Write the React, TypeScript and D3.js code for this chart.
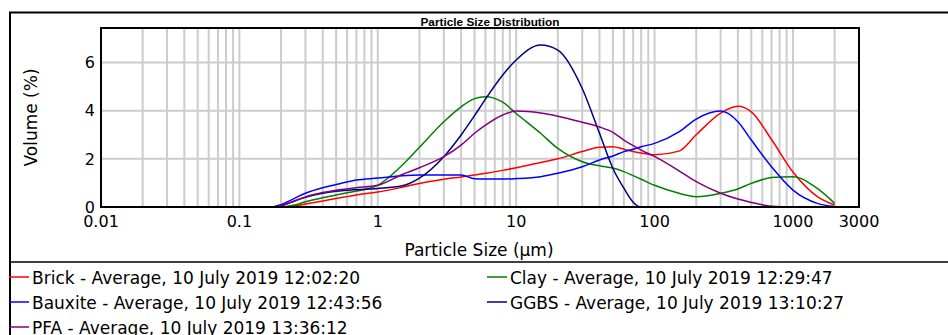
import React from "react";
import * as d3 from "d3";

// particle sizes (µm) shared by every series
const sizes = [
    0.02, 0.05, 0.1, 0.17, 0.2, 0.25, 0.3, 0.4, 0.5, 0.7, 1, 1.5, 2, 3, 4, 5, 6, 8, 10, 15, 20, 30, 40, 50,
    60, 70, 80, 100, 150, 200, 300, 400, 500, 700, 1000, 1500, 2000,
];

// volume (%) per size, null = not drawn
const brick = [
    null, 0, 0, 0, 0, 0.04, 0.12, 0.25, 0.35, 0.5, 0.62, 0.82, 0.98, 1.15, 1.25, 1.33, 1.4, 1.52, 1.63, 1.85,
    2.0, 2.3, 2.48, 2.5, 2.4, 2.3, 2.24, 2.17, 2.32, 3.0, 3.9, 4.18, 3.95, 2.8, 1.45, 0.43, 0.08,
];
const clay = [
    null, 0, 0, 0, 0, 0.08, 0.22, 0.38, 0.5, 0.66, 0.9, 1.73, 2.48, 3.54, 4.16, 4.5, 4.58, 4.35, 3.88, 3.06,
    2.43, 1.88, 1.71, 1.62, 1.47, 1.3, 1.15, 0.9, 0.57, 0.43, 0.57, 0.75, 0.98, 1.22, 1.26, 0.77, 0.15,
];
const bauxite = [
    0, 0, 0, 0, 0.1, 0.36, 0.57, 0.8, 0.93, 1.12, 1.2, 1.3, 1.33, 1.33, 1.33, 1.17, 1.16, 1.16, 1.18, 1.26,
    1.4, 1.67, 1.95, 2.12, 2.3, 2.4, 2.5, 2.64, 3.12, 3.65, 3.98, 3.54, 2.78, 1.67, 0.7, 0.15, 0.02,
];
const ggbs = [
    null, 0, 0, 0, 0.05, 0.25, 0.4, 0.57, 0.65, 0.72, 0.77, 0.88, 1.2, 2.09, 2.99, 3.79, 4.48, 5.48, 6.1, 6.72,
    6.51, 4.92, 3.06, 1.6, 0.78, 0.2, 0, 0, 0, 0, 0, 0, 0, 0, 0, 0, 0,
];
const pfa = [
    null, 0, 0, 0, 0.05, 0.25, 0.42, 0.6, 0.7, 0.8, 0.9, 1.35, 1.63, 2.09, 2.57, 3.06, 3.4, 3.82, 3.98, 3.9,
    3.77, 3.52, 3.32, 3.1, 2.78, 2.55, 2.36, 2.1, 1.5, 1.05, 0.57, 0.33, 0.19, 0.03, 0, 0, 0,
];

const seriesNames = [
    "Brick - Average, 10 July 2019 12:02:20",
    "Clay - Average, 10 July 2019 12:29:47",
    "Bauxite - Average, 10 July 2019 12:43:56",
    "GGBS - Average, 10 July 2019 13:10:27",
    "PFA - Average, 10 July 2019 13:36:12",
];
const seriesValues = [brick, clay, bauxite, ggbs, pfa];
const colors = ["#ff0000", "#008000", "#0000ff", "#000080", "#800080"];

const xTicks = [0.01, 0.1, 1, 10, 100, 1000, 3000];
const yTicks = [0, 2, 4, 6];

const width = 948;
const height = 335;
const font = "DejaVu Sans, Verdana, sans-serif";

export default function App() {
    const x = d3.scaleLog().domain([0.01, 3000]).range([101, 859]);
    const y = d3.scaleLinear().domain([0, 7.43]).range([207, 28]);

    // minor grid: 1..9 for every decade
    const grid: number[] = [];
    for (let e = -2; e <= 3; e++) {
        for (let m = 1; m <= 9; m++) {
            const v = m * Math.pow(10, e);
            if (v > 0.01 && v < 3000) grid.push(v);
        }
    }

    const line = d3
        .line<any>()
        .defined((d: any) => d[1] !== null)
        .x((d: any) => x(d[0]))
        .y((d: any) => y(d[1]))
        .curve(d3.curveMonotoneX);

    return (
        <svg
            width={width}
            height={height}
            style={{ position: "absolute", left: 0, top: 0, background: "#fff" }}
            fontFamily={font}
        >
            {/* outer frame */}
            <rect x={10} y={12.5} width={960} height={360} fill="none" stroke="#000" strokeWidth={2} />
            <line x1={10} x2={width} y1={262} y2={262} stroke="#000" strokeWidth={1.5} />

            <text
                x={490}
                y={25.5}
                textAnchor="middle"
                fontFamily="Liberation Sans, Arial, sans-serif"
                fontWeight="bold"
                fontSize={11.8}
            >
                Particle Size Distribution
            </text>

            {/* grid */}
            {grid.map((g, i) => (
                <line key={`gx${i}`} x1={x(g)} x2={x(g)} y1={28} y2={207} stroke="#cccccc" strokeWidth={2} />
            ))}
            {yTicks
                .filter((t) => t > 0)
                .map((t, i) => (
                    <line key={`gy${i}`} x1={101} x2={859} y1={y(t)} y2={y(t)} stroke="#cccccc" strokeWidth={2} />
                ))}

            {/* series */}
            {seriesValues.map((vals, i) => (
                <path
                    key={`s${i}`}
                    d={line(sizes.map((s, j) => [s, vals[j]])) || ""}
                    fill="none"
                    stroke={colors[i]}
                    strokeWidth={1.5}
                />
            ))}

            <rect x={101} y={28} width={758} height={179} fill="none" stroke="#000" strokeWidth={2} />

            {/* axes labels */}
            {xTicks.map((t, i) => (
                <text key={`xt${i}`} x={x(t)} y={227} textAnchor="middle" fontSize={16}>
                    {String(t)}
                </text>
            ))}
            {yTicks.map((t, i) => (
                <text key={`yt${i}`} x={95} y={y(t)} dy="0.36em" textAnchor="end" fontSize={16}>
                    {t}
                </text>
            ))}
            <text x={479} y={256} textAnchor="middle" fontSize={17}>
                Particle Size (µm)
            </text>
            <text transform="translate(36.5,117.5) rotate(-90)" textAnchor="middle" fontSize={17}>
                Volume (%)
            </text>

            {/* legend */}
            {seriesNames.map((name, i) => {
                const col = i % 2;
                const row = Math.floor(i / 2);
                const lx = 9 + col * 478;
                const ly = 277 + row * 25;
                return (
                    <g key={`lg${i}`} transform={`translate(${lx},${ly})`}>
                        <line x1={0} x2={20} y1={0} y2={0} stroke={colors[i]} strokeWidth={1.5} />
                        <text x={23} y={7} fontSize={17}>
                            {name}
                        </text>
                    </g>
                );
            })}
        </svg>
    );
}
